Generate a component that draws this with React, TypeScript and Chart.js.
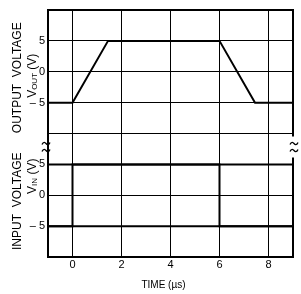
import React, { useEffect, useRef } from "react";
import { Chart, registerables } from "chart.js";

Chart.register(...registerables);

// ---- data ----
const TIME_TICKS = [0, 2, 4, 6, 8];
const VOLT_TICKS = [5, 0, -5];
const OUTPUT_TIME = [-1, 0, 1.45, 6, 7.45, 9];
const OUTPUT_VOLT = [-5, -5, 5, 5, -5, -5];
const INPUT_TIME = [-1, 0, 0, 6, 6, 9];
const INPUT_VOLT = [-5, -5, 5, 5, -5, -5];
const INPUT_LEVEL_TIME = [-1, 9];
const INPUT_HIGH = [5, 5];
const INPUT_LOW = [-5, -5];
const INPUT_OFFSET = -20; // input panel drawn 20 V below output panel
const SPLIT_VALUE = -10;
const X_MIN = -1;
const X_MAX = 9;
const Y_MIN = -30;
const Y_MAX = 10;
const X_TITLE = "TIME (\u00b5s)";

const FONT = "'Liberation Sans', Arial, sans-serif";

const pts = (xs: number[], ys: number[], off = 0) =>
  xs.map((x, i) => ({ x, y: ys[i] + off }));

function fmt(v: number) {
  if (v === SPLIT_VALUE) return "";
  const vv = v > SPLIT_VALUE ? v : v - INPUT_OFFSET;
  return vv < 0 ? "\u2013 " + Math.abs(vv) : String(vv);
}

function drawSubLabel(ctx: CanvasRenderingContext2D, x: number, yc: number, main: string, sub: string, rest: string) {
  ctx.save();
  ctx.translate(x, yc);
  ctx.rotate(-Math.PI / 2);
  const big = "12px " + FONT;
  const small = "8px " + FONT;
  ctx.font = big;
  const w1 = ctx.measureText(main).width;
  const w3 = ctx.measureText(rest).width;
  ctx.font = small;
  const w2 = ctx.measureText(sub).width;
  let sx = -(w1 + w2 + w3) / 2;
  ctx.fillStyle = "#000";
  ctx.textBaseline = "alphabetic";
  ctx.textAlign = "left";
  ctx.font = big;
  ctx.fillText(main, sx, 0);
  sx += w1;
  ctx.font = small;
  ctx.fillText(sub, sx, 1);
  sx += w2;
  ctx.font = big;
  ctx.fillText(rest, sx, 0);
  ctx.restore();
}

function drawRot(ctx: CanvasRenderingContext2D, text: string, x: number, yc: number) {
  ctx.save();
  ctx.translate(x, yc);
  ctx.rotate(-Math.PI / 2);
  ctx.font = "12px " + FONT;
  ctx.fillStyle = "#000";
  ctx.textAlign = "center";
  ctx.textBaseline = "alphabetic";
  ctx.fillText(text, 0, 0);
  ctx.restore();
}

function tilde(ctx: CanvasRenderingContext2D, cx: number, cy: number) {
  ctx.beginPath();
  ctx.moveTo(cx - 4, cy + 1);
  ctx.bezierCurveTo(cx - 2.5, cy - 2.5, cx - 0.8, cy - 1, cx, cy);
  ctx.bezierCurveTo(cx + 0.8, cy + 1, cx + 2.5, cy + 2.5, cx + 4, cy - 1);
  ctx.stroke();
}

const decor = {
  id: "decor",
  afterDraw(chart: any) {
    const { ctx, chartArea: a, scales } = chart;
    const y = scales.y;
    const ySplit = y.getPixelForValue(SPLIT_VALUE);
    ctx.save();
    // frame
    ctx.strokeStyle = "#000";
    ctx.lineWidth = 2;
    ctx.strokeRect(a.left, a.top, a.right - a.left, a.bottom - a.top);
    // break marks
    const yb = ySplit + 13;
    ctx.fillStyle = "#fff";
    ctx.fillRect(a.right - 2, ySplit + 3, 4, 21);
    ctx.lineWidth = 1.3;
    tilde(ctx, a.left - 2, yb - 3);
    tilde(ctx, a.left - 2, yb + 4);
    tilde(ctx, a.right + 1, yb - 3);
    tilde(ctx, a.right + 1, yb + 4);
    // titles
    const outC = (y.getPixelForValue(Y_MAX) + ySplit) / 2;
    const inC = (ySplit + y.getPixelForValue(Y_MIN)) / 2;
    drawRot(ctx, "OUTPUT  VOLTAGE", 21, outC + 6);
    drawSubLabel(ctx, 36, outC + 4, "V", "OUT", " (V)");
    drawRot(ctx, "INPUT  VOLTAGE", 21, inC + 6);
    drawSubLabel(ctx, 36, inC - 19, "V", "IN", " (V)");
    // x title
    ctx.fillStyle = "#000";
    ctx.font = "10px " + FONT;
    ctx.textAlign = "center";
    ctx.textBaseline = "alphabetic";
    ctx.fillText(X_TITLE, (a.left + a.right) / 2 - 7, a.bottom + 31);
    ctx.restore();
  },
};

export default function App() {
  const ref = useRef<HTMLCanvasElement>(null);
  useEffect(() => {
    document.body.style.margin = "0";
    const line = (data: any[], w: number) => ({
      data,
      borderColor: "#000",
      borderWidth: w,
      pointRadius: 0,
      fill: false,
      tension: 0,
      borderJoinStyle: "miter" as const,
    });
    const chart = new Chart(ref.current!, {
      type: "line",
      data: {
        datasets: [
          line(pts(INPUT_LEVEL_TIME, INPUT_HIGH, INPUT_OFFSET), 2),
          line(pts(INPUT_LEVEL_TIME, INPUT_LOW, INPUT_OFFSET), 2),
          line(pts(INPUT_TIME, INPUT_VOLT, INPUT_OFFSET), 2),
          line(pts(OUTPUT_TIME, OUTPUT_VOLT), 2),
        ],
      },
      plugins: [decor],
      options: {
        animation: false,
        responsive: false,
        devicePixelRatio: 1,
        layout: { padding: { top: 10, right: 8, left: 0, bottom: 0 } },
        plugins: { legend: { display: false }, tooltip: { enabled: false } },
        scales: {
          x: {
            type: "linear",
            min: X_MIN,
            max: X_MAX,
            afterBuildTicks: (s: any) => {
              s.ticks = TIME_TICKS.map((v) => ({ value: v }));
            },
            afterFit: (s: any) => {
              s.height = 37;
            },
            grid: { color: "#000", lineWidth: 1, drawTicks: false },
            border: { display: false },
            ticks: {
              color: "#000",
              padding: 1,
              maxRotation: 0,
              font: { family: FONT, size: 11 },
              callback: (v: any) => String(v),
            },
          },
          y: {
            type: "linear",
            min: Y_MIN,
            max: Y_MAX,
            afterBuildTicks: (s: any) => {
              s.ticks = [
                ...VOLT_TICKS.map((v) => ({ value: v })),
                { value: SPLIT_VALUE },
                ...VOLT_TICKS.map((v) => ({ value: v + INPUT_OFFSET })),
              ];
            },
            afterFit: (s: any) => {
              s.width = 48;
            },
            grid: { color: "#000", lineWidth: 1, drawTicks: false },
            border: { display: false },
            ticks: {
              color: "#000",
              padding: 3,
              font: { family: FONT, size: 11 },
              callback: (v: any) => fmt(Number(v)),
            },
          },
        },
      },
    });
    return () => chart.destroy();
  }, []);
  return <canvas ref={ref} width={301} height={294} style={{ display: "block" }} />;
}
